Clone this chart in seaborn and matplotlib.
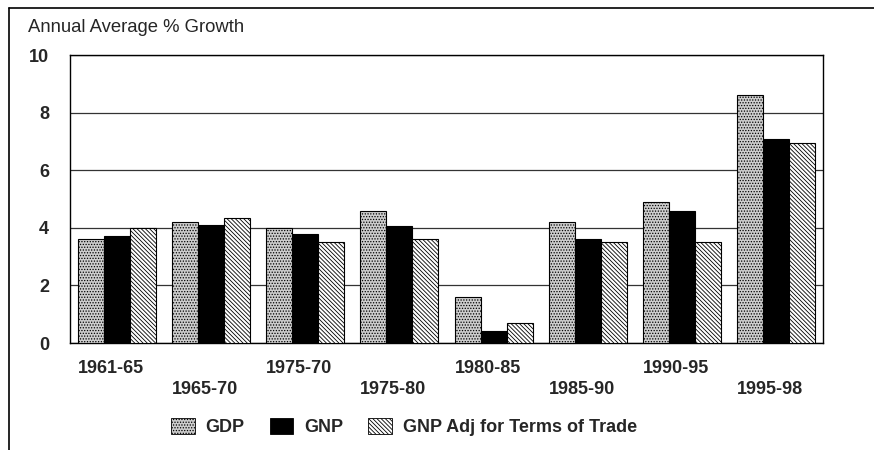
import matplotlib
matplotlib.use("Agg")
import matplotlib.pyplot as plt
import matplotlib.transforms as mtransforms
import seaborn as sns
import pandas as pd
from matplotlib.patches import Patch
from matplotlib.lines import Line2D

periods = ["1961-65", "1965-70", "1975-70", "1975-80", "1980-85", "1985-90", "1990-95", "1995-98"]
series_names = ["GDP", "GNP", "GNP Adj for Terms of Trade"]
gdp = [3.6, 4.2, 4.0, 4.6, 1.6, 4.2, 4.9, 8.6]
gnp = [3.7, 4.1, 3.8, 4.05, 0.4, 3.6, 4.6, 7.1]
gnp_adj = [4.0, 4.35, 3.5, 3.6, 0.7, 3.5, 3.5, 6.95]
y_ticks = [0, 2, 4, 6, 8, 10]
y_title = "Annual Average % Growth"

rows = []
for name, vals in zip(series_names, [gdp, gnp, gnp_adj]):
    for p, v in zip(periods, vals):
        rows.append({"period": p, "value": v, "series": name})
df = pd.DataFrame(rows)

sns.set_theme(style="white")
plt.rcParams["font.family"] = ["Liberation Sans", "DejaVu Sans"]
plt.rcParams["hatch.linewidth"] = 0.6

fig = plt.figure(figsize=(8.74, 4.5), dpi=100)
ax = fig.add_axes([70/874, 1-343/450, (823-70)/874, (343-55)/450])

face = ["#cdcdcd", "#000000", "#ffffff"]
hatches = ["......", "", "\\\\\\\\\\\\\\\\"]
sns.barplot(data=df, x="period", y="value", hue="series", hue_order=series_names,
            order=periods, palette=face, saturation=1, width=0.83,
            edgecolor="black", linewidth=0.8, legend=False, ax=ax, zorder=3)
for cont, h in zip(ax.containers, hatches):
    for bar in cont:
        bar.set_hatch(h)

ax.set_ylim(0, 10)
ax.set_xlim(-0.5, len(periods) - 0.5)
ax.set_yticks(y_ticks)
ax.set_yticklabels([str(t) for t in y_ticks], fontsize=13, fontweight="bold")
ax.tick_params(axis="y", length=0, pad=15)
ax.tick_params(axis="x", length=0)
ax.set_xticklabels(periods, fontsize=13, fontweight="bold")
shift = mtransforms.ScaledTranslation(-6/100, 0, fig.dpi_scale_trans)
for i, t in enumerate(ax.xaxis.get_major_ticks()):
    t.set_pad(12 if i % 2 == 0 else 27)
for lab in ax.get_xticklabels():
    lab.set_transform(lab.get_transform() + shift)
ax.set_xlabel("")
ax.set_ylabel("")
ax.grid(axis="y", color="#333333", linewidth=0.9, zorder=0)
for s in ax.spines.values():
    s.set_color("black")
    s.set_linewidth(1.0)

fig.text(28/874, 1-28/450, y_title, fontsize=13.3, va="center", ha="left")

handles = [Patch(facecolor=f, edgecolor="black", hatch=h, linewidth=0.6) for f, h in zip(face, hatches)]
fig.legend(handles, series_names, loc="center", bbox_to_anchor=(404/874, 1-427/450),
           ncol=3, frameon=False, prop={"size": 13, "weight": "bold"},
           handlelength=1.3, handleheight=1.0, columnspacing=1.4, handletextpad=0.6)

fig.add_artist(Line2D([9/874, 9/874], [0, 1-8/450], transform=fig.transFigure, color="black", linewidth=1.2))
fig.add_artist(Line2D([9/874, 1], [1-8/450, 1-8/450], transform=fig.transFigure, color="black", linewidth=1.2))

fig.savefig("out.png", dpi=100)
